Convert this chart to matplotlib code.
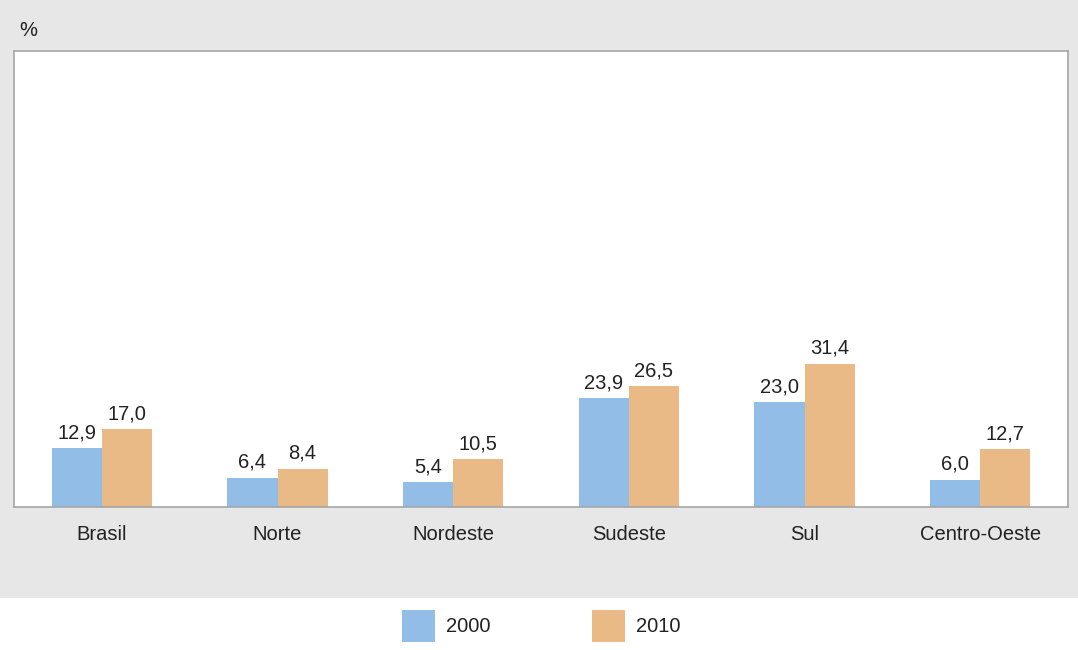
import numpy as np
import matplotlib
matplotlib.use('Agg')
import matplotlib.pyplot as plt
from matplotlib.patches import Rectangle

plt.rcParams['font.family'] = ['Liberation Sans', 'DejaVu Sans']

# data
regioes = ['Brasil', 'Norte', 'Nordeste', 'Sudeste', 'Sul', 'Centro-Oeste']
v2000 = [12.9, 6.4, 5.4, 23.9, 23.0, 6.0]
v2010 = [17.0, 8.4, 10.5, 26.5, 31.4, 12.7]
anos = ['2000', '2010']

azul = '#92bde7'
laranja = '#e9ba86'
fundo = '#e6e7e6'
txt = '#222222'
fs = 14.5

W, H = 1078, 650
fig = plt.figure(figsize=(W / 100, H / 100), dpi=100)
fig.patch.set_facecolor('white')

# gray band behind chart
fig.patches.append(Rectangle((0, 1 - 598 / H), 1, 598 / H, transform=fig.transFigure,
                             facecolor=fundo, edgecolor='none', zorder=-10))

ax = fig.add_axes([14 / W, 1 - 507 / H, (1068 - 14) / W, (507 - 51) / H])
ax.set_zorder(5)
ax.set_facecolor('white')

x = np.arange(len(regioes))
w = 0.285
b1 = ax.bar(x - w / 2, v2000, w, color=azul, zorder=2)
b2 = ax.bar(x + w / 2, v2010, w, color=laranja, zorder=2)

def fmt(v):
    return f'{v:.1f}'.replace('.', ',')

for bars, vals in ((b1, v2000), (b2, v2010)):
    for r, v in zip(bars, vals):
        ax.text(r.get_x() + r.get_width() / 2, v + 1.3, fmt(v), ha='center', va='bottom',
                fontsize=fs, color=txt)

ax.set_xlim(-0.5, len(regioes) - 0.5)
ax.set_ylim(0, 100)
ax.set_yticks([])
ax.set_xticks(x)
ax.set_xticklabels(regioes, fontsize=fs, color=txt)
ax.tick_params(axis='x', length=0, pad=13)
for s in ax.spines.values():
    s.set_color('#a6a6a6')
    s.set_linewidth(1.2)

fig.text(19 / W, 1 - 30 / H, '%', fontsize=fs, color=txt, va='center', ha='left')

# legend
for (x0, lab, c) in ((402, anos[0], azul), (592, anos[1], laranja)):
    fig.patches.append(Rectangle((x0 / W, 1 - 642 / H), 33 / W, 32 / H, transform=fig.transFigure,
                                 facecolor=c, edgecolor='none'))
    fig.text((x0 + 44) / W, 1 - 627 / H, lab, fontsize=fs, color=txt, va='center', ha='left')

fig.savefig('out.png', dpi=100, facecolor=fig.get_facecolor())
